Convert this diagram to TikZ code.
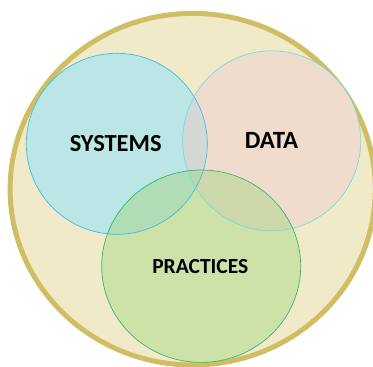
\documentclass[tikz,border=0pt]{standalone}
\usepackage{fontspec}
\setmainfont{Carlito}
\definecolor{outerfill}{RGB}{241,234,200}
\definecolor{outerline}{RGB}{208,190,100}
\definecolor{sysline}{RGB}{60,190,225}
\definecolor{dataline}{RGB}{110,225,225}
\definecolor{pracline}{RGB}{50,185,115}
\definecolor{sysfill}{RGB}{188,230,230}
\definecolor{datafill}{RGB}{240,220,205}
\definecolor{pracfill}{RGB}{204,226,168}
\definecolor{sdfill}{RGB}{212,216,213}
\definecolor{spfill}{RGB}{176,221,182}
\definecolor{dpfill}{RGB}{205,217,170}
\definecolor{sdpfill}{RGB}{186,214,172}
\tikzset{x=1pt,y=-1pt,
 lbl/.style={font=\bfseries\fontsize{#1}{26}\selectfont,text=black,inner sep=0pt}}
\begin{document}
\begin{tikzpicture}
\useasboundingbox (0,0) rectangle (373,367);
\clip (0,0) rectangle (373,367);
\fill[white] (0,0) rectangle (373,367);
\draw[draw=outerline,fill=outerfill,line width=5pt] (192.7,189.2) ellipse [x radius=182.6, y radius=175.8];
\def\sysshape{(116.8,143.8) ellipse [x radius=90.5, y radius=90.5]}
\def\datashape{(271.7,140.8) ellipse [x radius=89, y radius=90]}
\def\pracshape{(201.2,266.2) ellipse [x radius=99.5, y radius=96.2]}
\fill[sysfill] \sysshape;
\fill[datafill] \datashape;
\begin{scope}
\clip \sysshape;
\fill[sdfill] \datashape;
\end{scope}
\fill[pracfill] \pracshape;
\begin{scope}
\clip \pracshape;
\fill[spfill] \sysshape;
\fill[dpfill] \datashape;
\clip \sysshape;
\fill[sdpfill] \datashape;
\end{scope}
\draw[sysline,line width=.7pt] \sysshape;
\draw[dataline,line width=.7pt] \datashape;
\draw[pracline,line width=.7pt] \pracshape;
\node[lbl=24.5] (tsys) at (115.7,143.5) {SYSTEMS};
\node[lbl=24.8] (tdata) at (271.5,140) {DATA};
\node[lbl=21.5] (tprac) at (200.3,266.5) {PRACTICES};
\end{tikzpicture}
\end{document}
